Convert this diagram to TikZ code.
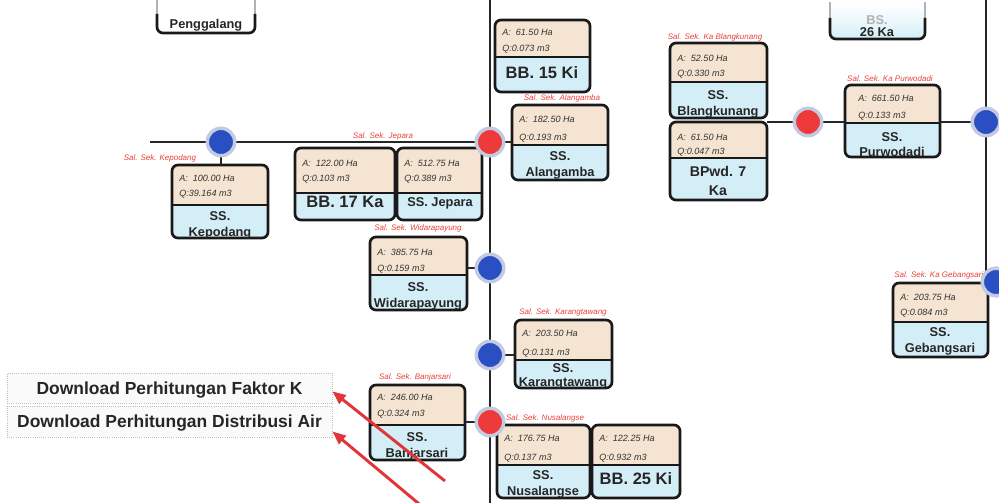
\documentclass[tikz,border=0pt]{standalone}
\usepackage{fontspec}
\setmainfont{Liberation Sans}
\usetikzlibrary{fit,arrows.meta}
\definecolor{tanfill}{HTML}{F4E4D1}
\definecolor{bluefill}{HTML}{D4EEF7}
\definecolor{dotblue}{HTML}{2A4FC2}
\definecolor{dotred}{HTML}{EE3A3A}
\definecolor{halo}{HTML}{C3CBE3}
\definecolor{labred}{HTML}{E8403A}
\definecolor{arrred}{HTML}{E0363A}
\newcommand{\gbox}[6]{%
  \coordinate (#1-nw) at (#2,#3);
  \coordinate (#1-se) at (#4,#5);
  \begin{scope}
    \clip[rounded corners=4.5pt] (#2,#3) rectangle (#4,#5);
    \fill[bluefill] (#2,#3) rectangle (#4,#5);
    \fill[tanfill] (#2,#3) rectangle (#4,#6);
  \end{scope}
  \draw[boxline] (#2,#6) -- (#4,#6);
  \draw[boxline, rounded corners=4.5pt] (#2,#3) rectangle (#4,#5);
  \node[fit=(#1-nw)(#1-se), inner sep=0pt] (#1) {};
}
\begin{document}
\begin{tikzpicture}[x=0.75pt,y=-0.75pt,
  mainline/.style={line width=2.2pt, black!85},
  linkline/.style={line width=1.8pt, black!85},
  boxline/.style={line width=2pt, black!90},
  bdot/.style={circle, fill=dotblue, draw=halo, line width=2.5pt, minimum size=20.5pt, inner sep=0pt},
  rdot/.style={circle, fill=dotred, draw=halo, line width=2.5pt, minimum size=20.5pt, inner sep=0pt},
  aqtext/.style={font=\fontsize{6.8}{8}\selectfont\itshape, text=black!80, anchor=west, inner sep=0pt, text height=4.9pt, text depth=0pt},
  nametext/.style={font=\fontsize{9.6}{11}\selectfont\bfseries, text=black!85, inner sep=0pt, text height=6.9pt, text depth=0pt},
  bigname/.style={font=\fontsize{10.6}{12}\selectfont\bfseries, text=black!85, inner sep=0pt, text height=7.6pt, text depth=0pt},
  bbtext/.style={font=\fontsize{12.4}{14}\selectfont\bfseries, text=black!85, inner sep=0pt, text height=8.9pt, text depth=0pt},
  labtext/.style={font=\fontsize{6}{7}\selectfont\itshape, text=labred, inner sep=0pt, text height=4.3pt, text depth=0pt},
  dlbtn/.style={draw=black!25, densely dotted, line width=0.6pt, fill=black!2, minimum width=243.75pt, inner sep=0pt,
    font=\fontsize{13.1}{15}\selectfont\bfseries, text=black!85, text height=9.4pt, text depth=0pt},
  redarr/.style={draw=arrred, line width=2.2pt, -{Triangle[length=10pt,width=8pt]}}
]
\useasboundingbox (0,0) rectangle (999,503);
\clip (0,0) rectangle (999,503);

% ---------- circles (nodes) ----------
\node[bdot] (b1) at (221,142) {};
\node[rdot] (r1) at (490,142) {};
\node[bdot] (b2) at (490,268) {};
\node[bdot] (b3) at (490,355) {};
\node[rdot] (r2) at (490,422) {};
\node[rdot] (r3) at (808,122) {};
\node[bdot] (b4) at (986,122) {};
\node[bdot] (b5) at (996,282) {};

% ---------- boxes ----------
% Penggalang (partial)
\coordinate (pg-nw) at (157,0);
\coordinate (pg-se) at (255,33);
\draw[line width=1.2pt, black!30] (157,0) -- (157,14) (255,0) -- (255,14);
\draw[boxline, rounded corners=4.5pt] (157,14) -- (157,33) -- (255,33) -- (255,14);
\node[fit=(pg-nw)(pg-se), inner sep=0pt] (penggalang) {};
\node[nametext] (pg-n) at (206,24) {Penggalang};

% 26 Ka (partial)
\coordinate (bs-nw) at (830,0);
\coordinate (bs-se) at (925,39);
\begin{scope}
  \clip[rounded corners=4.5pt] (830,-20) rectangle (925,39);
  \shade[top color=white, bottom color=bluefill] (830,4) rectangle (925,39);
\end{scope}
\draw[line width=1.2pt, black!30] (830,2) -- (830,18) (925,2) -- (925,18);
\draw[boxline, rounded corners=4.5pt] (830,18) -- (830,39) -- (925,39) -- (925,18);
\node[fit=(bs-nw)(bs-se), inner sep=0pt] (ka26) {};
\node[nametext, text=black!30] (bs-n1) at (877,20) {BS.};
\node[nametext] (bs-n2) at (877,32) {26 Ka};

% ---------- connectors ----------
\coordinate (hstart) at (150,142);
\coordinate (vtop) at (490,0);
\coordinate (vbot) at (490,503);
\coordinate (rtop) at (986,0);
\draw[mainline] (hstart) -- (b1) -- (r1);
\draw[mainline] (vtop) -- (r1) -- (b2) -- (b3) -- (r2) -- (vbot);
\draw[mainline] (rtop) -- (b4) -- (b4 |- b5);

\gbox{bb15}{495}{20}{590}{92}{57}
\gbox{alangamba}{512}{105}{608}{180}{145}
\gbox{blang}{670}{43}{767}{118}{82}
\gbox{bpwd}{670}{122}{767}{200}{158}
\gbox{purwo}{845}{85}{940}{157}{123}
\gbox{kepodang}{172}{165}{268}{238}{205}
\gbox{bb17}{295}{148}{395}{220}{193}
\gbox{jepara}{397}{148}{482}{220}{193}
\gbox{widara}{370}{237}{467}{310}{275}
\gbox{karang}{515}{320}{612}{388}{360}
\gbox{banjar}{370}{385}{465}{460}{425}
\gbox{nusa}{497}{425}{590}{498}{465}
\gbox{bb25}{592}{425}{680}{498}{465}
\gbox{gebang}{893}{283}{988}{357}{322}

\draw[linkline] (r1) -- (r1 -| alangamba.west);
\draw[linkline] (b2) -- (b2 -| widara.east);
\draw[linkline] (b3) -- (b3 -| karang.west);
\draw[linkline] (r2) -- (r2 -| banjar.east);
\draw[linkline] (b1) -- (b1 |- kepodang.north);
\draw[mainline] (r3) -- (r3 -| blang.east);
\draw[mainline] (r3) -- (r3 -| purwo.west);
\draw[mainline] (b4) -- (b4 -| purwo.east);

% redraw circles on top
\node[bdot] at (b1) {};
\node[rdot] at (r1) {};
\node[bdot] at (b2) {};
\node[bdot] at (b3) {};
\node[rdot] at (r2) {};
\node[rdot] at (r3) {};
\node[bdot] at (b4) {};
\node[bdot] at (b5) {};

% ---------- texts ----------
% BB. 15 Ki
\node[aqtext] (bb15-a) at (502,32) {A:~ 61.50 Ha};
\node[aqtext] (bb15-q) at (502,48) {Q:0.073 m3};
\node[bbtext] (bb15-n) at (542,73) {BB. 15 Ki};
% Alangamba
\node[labtext] (alang-l) at (562,98) {Sal. Sek. Alangamba};
\node[aqtext] (alang-a) at (519,119) {A:~ 182.50 Ha};
\node[aqtext] (alang-q) at (519,137) {Q:0.193 m3};
\node[nametext] (alang-n1) at (560,156) {SS.};
\node[nametext] (alang-n2) at (560,172) {Alangamba};
% Blangkunang
\node[labtext] (blang-l) at (715,37) {Sal. Sek. Ka Blangkunang};
\node[aqtext] (blang-a) at (677,58) {A:~ 52.50 Ha};
\node[aqtext] (blang-q) at (677,73) {Q:0.330 m3};
\node[nametext] (blang-n1) at (718,95) {SS.};
\node[nametext] (blang-n2) at (718,111) {Blangkunang};
% BPwd. 7 Ka
\node[aqtext] (bpwd-a) at (677,137) {A:~ 61.50 Ha};
\node[aqtext] (bpwd-q) at (677,151) {Q:0.047 m3};
\node[bigname] (bpwd-n1) at (718,171) {BPwd. 7};
\node[bigname] (bpwd-n2) at (718,190) {Ka};
% Purwodadi
\node[labtext] (purwo-l) at (890,79) {Sal. Sek. Ka Purwodadi};
\node[aqtext] (purwo-a) at (858,98) {A:~ 661.50 Ha};
\node[aqtext] (purwo-q) at (858,115) {Q:0.133 m3};
\node[nametext] (purwo-n1) at (892,137) {SS.};
\node[nametext] (purwo-n2) at (892,152) {Purwodadi};
% Kepodang
\node[labtext] (kep-l) at (160,158) {Sal. Sek. Kepodang};
\node[aqtext] (kep-a) at (179,178) {A:~ 100.00 Ha};
\node[aqtext] (kep-q) at (179,193) {Q:39.164 m3};
\node[nametext] (kep-n1) at (220,216) {SS.};
\node[nametext] (kep-n2) at (220,232) {Kepodang};
% BB. 17 Ka
\node[aqtext] (bb17-a) at (302,163) {A:~ 122.00 Ha};
\node[aqtext] (bb17-q) at (302,178) {Q:0.103 m3};
\node[bbtext] (bb17-n) at (345,202) {BB. 17 Ka};
% Jepara
\node[labtext] (jep-l) at (383,136) {Sal. Sek. Jepara};
\node[aqtext] (jep-a) at (404,163) {A:~ 512.75 Ha};
\node[aqtext] (jep-q) at (404,178) {Q:0.389 m3};
\node[nametext] (jep-n) at (440,202) {SS. Jepara};
% Widarapayung
\node[labtext] (wid-l) at (418,228) {Sal. Sek. Widarapayung};
\node[aqtext] (wid-a) at (377,252) {A:~ 385.75 Ha};
\node[aqtext] (wid-q) at (377,268) {Q:0.159 m3};
\node[nametext] (wid-n1) at (418,287) {SS.};
\node[nametext] (wid-n2) at (418,303) {Widarapayung};
% Karangtawang
\node[labtext] (kar-l) at (563,312) {Sal. Sek. Karangtawang};
\node[aqtext] (kar-a) at (522,333) {A:~ 203.50 Ha};
\node[aqtext] (kar-q) at (522,352) {Q:0.131 m3};
\node[nametext] (kar-n1) at (563,368) {SS.};
\node[nametext] (kar-n2) at (563,382) {Karangtawang};
% Banjarsari
\node[labtext] (ban-l) at (415,377) {Sal. Sek. Banjarsari};
\node[aqtext] (ban-a) at (377,397) {A:~ 246.00 Ha};
\node[aqtext] (ban-q) at (377,413) {Q:0.324 m3};
\node[nametext] (ban-n1) at (417,437) {SS.};
\node[nametext] (ban-n2) at (417,453) {Banjarsari};
% Nusalangse
\node[labtext] (nus-l) at (545,418) {Sal. Sek. Nusalangse};
\node[aqtext] (nus-a) at (504,438) {A:~ 176.75 Ha};
\node[aqtext] (nus-q) at (504,457) {Q:0.137 m3};
\node[nametext] (nus-n1) at (543,475) {SS.};
\node[nametext] (nus-n2) at (543,491) {Nusalangse};
% BB. 25 Ki
\node[aqtext] (bb25-a) at (599,438) {A:~ 122.25 Ha};
\node[aqtext] (bb25-q) at (599,457) {Q:0.932 m3};
\node[bbtext] (bb25-n) at (636,479) {BB. 25 Ki};
% Gebangsari
\node[labtext, anchor=west] (geb-l) at (894,275) {Sal. Sek. Ka Gebangsari};
\node[aqtext] (geb-a) at (900,297) {A:~ 203.75 Ha};
\node[aqtext] (geb-q) at (900,312) {Q:0.084 m3};
\node[nametext] (geb-n1) at (940,332) {SS.};
\node[nametext] (geb-n2) at (940,348) {Gebangsari};
\node[bdot] at (b5) {};

% ---------- download buttons ----------
\node[dlbtn, minimum height=22.5pt] (dl1) at (169.5,388) {Download Perhitungan Faktor K};
\node[dlbtn, minimum height=23.25pt] (dl2) at (169.5,421.5) {Download Perhitungan Distribusi Air};

% ---------- red arrows ----------
\coordinate (t1) at (445,481);
\coordinate (t2) at (424,508);
\draw[redarr] (t1) -- ([yshift=-2.5pt]dl1.east);
\draw[redarr] (t2) -- ([yshift=-7.5pt]dl2.east);
\end{tikzpicture}
\end{document}
